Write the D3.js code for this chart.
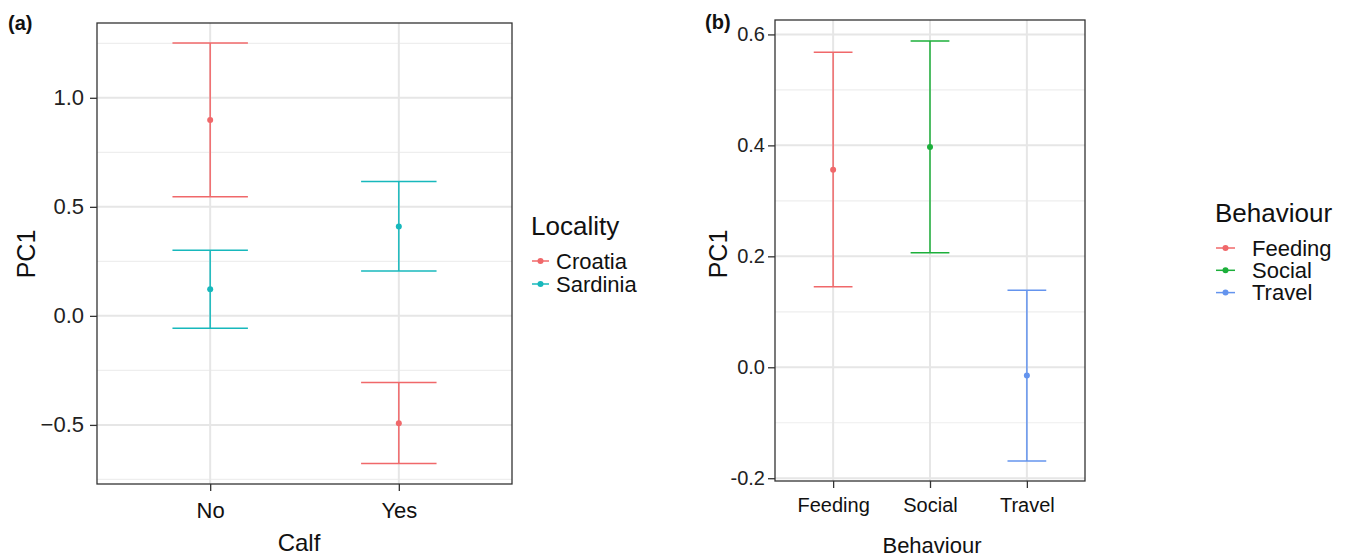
<!DOCTYPE html>
<html><head><meta charset="utf-8">
<script src="https://cdn.jsdelivr.net/npm/d3@7"></script>
<style>body{margin:0;background:#fff}svg{display:block;font-family:"Liberation Sans",Arial,sans-serif}</style>
</head><body><svg id="c" width="1350" height="558"></svg>
<script>
// ---- Panel (a) data ----
const calfCats = ["No", "Yes"];
const localities = ["Croatia", "Sardinia"];
const localityColors = ["#F0686A", "#17B8BC"];
const croatiaMean = [0.898, -0.492];
const croatiaLower = [0.546, -0.677];
const croatiaUpper = [1.251, -0.306];
const sardiniaMean = [0.122, 0.410];
const sardiniaLower = [-0.057, 0.206];
const sardiniaUpper = [0.301, 0.616];
const aMajorTicks = [-0.5, 0.0, 0.5, 1.0];
const aMinorTicks = [-0.75, -0.25, 0.25, 0.75, 1.25];

// ---- Panel (b) data ----
const behaviourCats = ["Feeding", "Social", "Travel"];
const behaviourColors = ["#F0686A", "#1CAF3A", "#6494EE"];
const behMean = [0.356, 0.397, -0.015];
const behLower = [0.145, 0.2065, -0.169];
const behUpper = [0.568, 0.588, 0.139];
const bMajorTicks = [-0.2, 0.0, 0.2, 0.4, 0.6];
const bMinorTicks = [-0.1, 0.1, 0.3, 0.5];

const svg = d3.select("#c");

function panel(cfg) {
  const g = svg.append("g");
  const x = d3.scalePoint().domain(cfg.cats).range([cfg.left, cfg.right]).padding(0.6);
  const y = d3.scaleLinear().domain(cfg.ydom).range([cfg.bottom, cfg.top]);
  const step = x.step();
  g.append("rect").attr("x", cfg.left).attr("y", cfg.top).attr("width", cfg.right - cfg.left).attr("height", cfg.bottom - cfg.top).attr("fill", "#fff");
  g.selectAll(".mn").data(cfg.minor).join("line")
    .attr("x1", cfg.left).attr("x2", cfg.right).attr("y1", d => y(d)).attr("y2", d => y(d))
    .attr("stroke", "#EEEEEE").attr("stroke-width", 1.2);
  g.selectAll(".mj").data(cfg.major).join("line")
    .attr("x1", cfg.left).attr("x2", cfg.right).attr("y1", d => y(d)).attr("y2", d => y(d))
    .attr("stroke", "#E6E6E6").attr("stroke-width", 2);
  g.selectAll(".vx").data(cfg.cats).join("line")
    .attr("x1", d => x(d)).attr("x2", d => x(d)).attr("y1", cfg.top).attr("y2", cfg.bottom)
    .attr("stroke", "#E6E6E6").attr("stroke-width", 2);
  cfg.series.forEach(s => {
    const sg = g.append("g").attr("stroke", s.color).attr("fill", s.color);
    cfg.cats.forEach((c, i) => {
      if (s.mean[i] == null) return;
      const cx = x(c);
      const hw = step * 0.2;
      sg.append("line").attr("x1", cx).attr("x2", cx).attr("y1", y(s.lower[i])).attr("y2", y(s.upper[i])).attr("stroke-width", 1.5);
      sg.append("line").attr("x1", cx - hw).attr("x2", cx + hw).attr("y1", y(s.lower[i])).attr("y2", y(s.lower[i])).attr("stroke-width", 1.5);
      sg.append("line").attr("x1", cx - hw).attr("x2", cx + hw).attr("y1", y(s.upper[i])).attr("y2", y(s.upper[i])).attr("stroke-width", 1.5);
      sg.append("circle").attr("cx", cx).attr("cy", y(s.mean[i])).attr("r", 3).attr("stroke", "none");
    });
  });
  g.append("rect").attr("x", cfg.left).attr("y", cfg.top).attr("width", cfg.right - cfg.left).attr("height", cfg.bottom - cfg.top)
    .attr("fill", "none").attr("stroke", "#333").attr("stroke-width", 1.3);
  const ya = d3.axisLeft(y).tickValues(cfg.major).tickSize(7).tickPadding(cfg.yPad).tickFormat(cfg.fmt);
  const ag = g.append("g").attr("transform", `translate(${cfg.left},0)`).call(ya);
  ag.select(".domain").remove();
  ag.selectAll("line").attr("stroke", "#333").attr("stroke-width", 1.3);
  ag.selectAll("text").attr("font-size", cfg.tickFont).attr("fill", "#222").attr("font-family", "Liberation Sans, Arial, sans-serif");
  const xa = d3.axisBottom(x).tickSize(7).tickPadding(cfg.xPad);
  const xg = g.append("g").attr("transform", `translate(0,${cfg.bottom})`).call(xa);
  xg.select(".domain").remove();
  xg.selectAll("line").attr("stroke", "#333").attr("stroke-width", 1.3);
  xg.selectAll("text").attr("font-size", cfg.tickFont).attr("fill", "#111").attr("font-family", "Liberation Sans, Arial, sans-serif");
  g.append("text").attr("x", cfg.xTitleX).attr("y", cfg.xTitleY).attr("text-anchor", "middle").attr("font-size", cfg.xTitleFont).attr("fill", "#111").text(cfg.xTitle);
  g.append("text").attr("transform", `translate(${cfg.yTitleX},${cfg.yTitleY}) rotate(-90)`).attr("text-anchor", "middle").attr("font-size", 25).attr("fill", "#111").text("PC1");
  g.append("text").attr("x", cfg.tagX).attr("y", cfg.tagY).attr("font-size", 20).attr("font-weight", "bold").attr("fill", "#111").text(cfg.tag);
  const lg = g.append("g");
  lg.append("text").attr("x", cfg.legX).attr("y", cfg.legTitleY).attr("font-size", cfg.legTitleFont).attr("fill", "#111").text(cfg.legTitle);
  cfg.series.forEach((s, i) => {
    const ly = cfg.legKeyY0 + i * cfg.legStep;
    lg.append("line").attr("x1", cfg.legX + 1).attr("x2", cfg.legX + 1 + cfg.keyLen).attr("y1", ly).attr("y2", ly).attr("stroke", s.color).attr("stroke-width", 1.5);
    lg.append("circle").attr("cx", cfg.legX + 1 + cfg.keyLen / 2).attr("cy", ly).attr("r", 3).attr("fill", s.color);
    lg.append("text").attr("x", cfg.legTextX).attr("y", ly + 7.5).attr("font-size", cfg.legFont).attr("fill", "#111").text(s.name);
  });
}

panel({
  cats: calfCats, left: 97, right: 512, top: 23, bottom: 484, ydom: [-0.771, 1.343],
  major: aMajorTicks, minor: aMinorTicks, fmt: d3.format(".1f"), tickFont: 22, yPad: 6, xPad: 11,
  series: localities.map((n, i) => ({
    name: n, color: localityColors[i],
    mean: i === 0 ? croatiaMean : sardiniaMean,
    lower: i === 0 ? croatiaLower : sardiniaLower,
    upper: i === 0 ? croatiaUpper : sardiniaUpper
  })),
  xTitle: "Calf", xTitleX: 299, xTitleY: 551, xTitleFont: 24,
  yTitleX: 35, yTitleY: 254, tag: "(a)", tagX: 8, tagY: 30,
  legX: 531, legTitle: "Locality", legTitleY: 235, legTitleFont: 26,
  legKeyY0: 261, legStep: 23, keyLen: 17, legTextX: 556, legFont: 22
});

panel({
  cats: behaviourCats, left: 775, right: 1085, top: 20, bottom: 481, ydom: [-0.205, 0.626],
  major: bMajorTicks, minor: bMinorTicks, fmt: d => d3.format(".1f")(d).replace("−", "-"), tickFont: 20, yPad: 3, xPad: 10,
  series: behaviourCats.map((n, i) => ({
    name: n, color: behaviourColors[i],
    mean: behaviourCats.map((c, j) => j === i ? behMean[j] : null),
    lower: behaviourCats.map((c, j) => j === i ? behLower[j] : null),
    upper: behaviourCats.map((c, j) => j === i ? behUpper[j] : null)
  })),
  xTitle: "Behaviour", xTitleX: 932, xTitleY: 553, xTitleFont: 22,
  yTitleX: 727, yTitleY: 254, tag: "(b)", tagX: 705, tagY: 29,
  legX: 1215, legTitle: "Behaviour", legTitleY: 222, legTitleFont: 26,
  legKeyY0: 248, legStep: 22.3, keyLen: 19, legTextX: 1252, legFont: 22
});
</script></body></html>
